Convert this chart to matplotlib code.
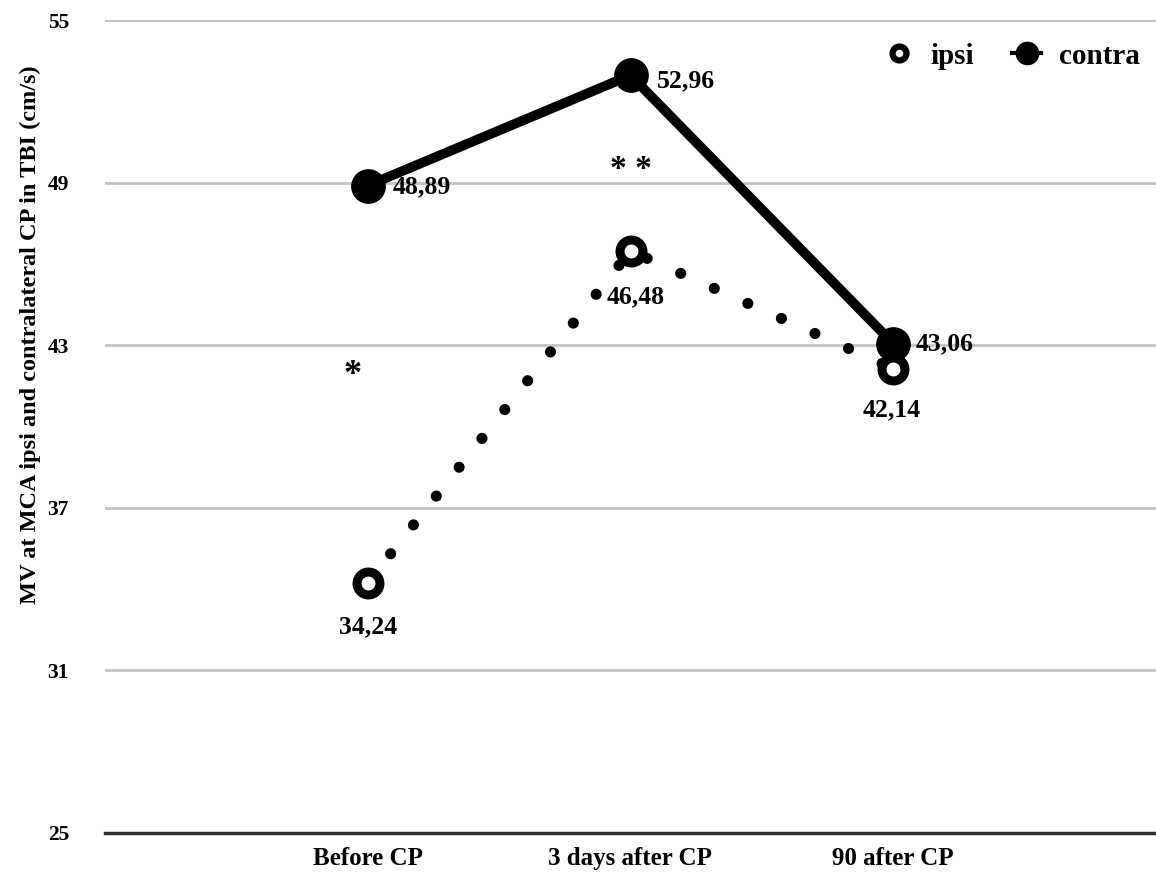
import matplotlib
matplotlib.use("Agg")
import matplotlib.pyplot as plt
from matplotlib.lines import Line2D

categories = ["Before CP", "3 days after CP", "90 after CP"]
ipsi = [34.24, 46.48, 42.14]
contra = [48.89, 52.96, 43.06]
ipsi_labels = ["34,24", "46,48", "42,14"]
contra_labels = ["48,89", "52,96", "43,06"]
yticks = [25, 31, 37, 43, 49, 55]

plt.rcParams['font.family'] = ['Liberation Serif', 'DejaVu Serif']
plt.rcParams['font.weight'] = 'bold'

fig = plt.figure(figsize=(11.56, 8.76), dpi=100)
ax = fig.add_axes([105/1156, 43/876, 1 - 105/1156, (833-20)/876])

x = list(range(len(categories)))

ax.plot(x, ipsi, color='black', lw=8, linestyle=(0, (0.01, 3.3)),
        dash_capstyle='round', solid_capstyle='round', zorder=3)
ax.plot(x, contra, color='black', lw=7, solid_capstyle='round', zorder=4)
ax.plot(x, contra, ls='none', marker='o', ms=24, color='black', zorder=5)
ax.plot(x, ipsi, ls='none', marker='o', ms=16.5, mfc='white', mec='black',
        mew=6.5, zorder=6)

fs = 18.5
# contra labels: right of the point
c_off = [(18, -1), (19, -4), (16, 0)]
for xi, yi, t, off in zip(x, contra, contra_labels, c_off):
    ax.annotate(t, (xi, yi), xytext=off, textcoords='offset points',
                ha='left', va='center', fontsize=fs, fontweight='bold', zorder=7)
# ipsi labels: below the point
i_off = [(0, -32), (4, -33), (-1, -30)]
for xi, yi, t, off in zip(x, ipsi, ipsi_labels, i_off):
    ax.annotate(t, (xi, yi), xytext=off, textcoords='offset points',
                ha='center', va='center', fontsize=fs, fontweight='bold', zorder=7)

ax.text(-0.057, 41.9, "*", ha='center', va='center', fontsize=26, fontweight='bold')
ax.text(1.0, 49.5, "* *", ha='center', va='center', fontsize=24, fontweight='bold')

ax.set_xlim(-1, 3)
ax.set_ylim(25, 55)
ax.set_yticks(yticks)
ax.set_yticklabels([str(v) for v in yticks])
ax.set_xticks(x)
ax.set_xticklabels(categories)
ax.tick_params(axis='y', length=0, pad=26, labelsize=15.5)
ax.tick_params(axis='x', length=0, pad=10, labelsize=18)
for lab in ax.get_xticklabels() + ax.get_yticklabels():
    lab.set_fontweight('bold')

ax.grid(axis='y', color='#c4c4c4', lw=2)
ax.set_axisbelow(True)
for s in ['top', 'right', 'left']:
    ax.spines[s].set_visible(False)
ax.spines['bottom'].set_color('#333333')
ax.spines['bottom'].set_linewidth(2.5)
ax.spines['bottom'].set_zorder(2)

fig.text(30/1156, 1 - 335/876, "MV at MCA ipsi and contralateral CP in TBI (cm/s)",
         rotation=90, ha='center', va='center', fontsize=17.5, fontweight='bold')

h_ipsi = Line2D([], [], ls='none', marker='o', ms=10, mfc='white', mec='black', mew=4.5)
h_contra = Line2D([], [], color='black', lw=3, marker='o', ms=16)
leg = fig.legend([h_ipsi, h_contra], ['ipsi', 'contra'], ncol=2, frameon=False,
                 loc='center right', bbox_to_anchor=(1166/1156, 1 - 56/876),
                 prop={'size': 21, 'weight': 'bold'}, handlelength=1.0,
                 columnspacing=1.3, handletextpad=0.6)

fig.savefig("out.png", dpi=100)
